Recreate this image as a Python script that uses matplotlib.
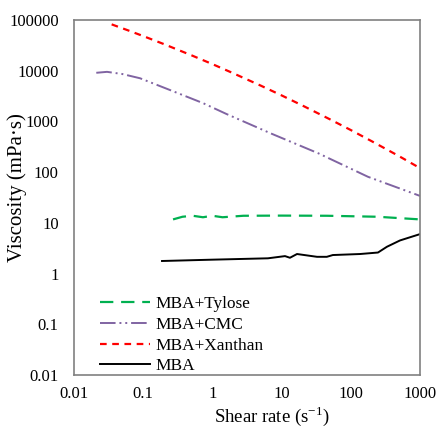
import numpy as np
from matplotlib import pyplot as plt

# data (shear rate in 1/s, viscosity in mPa.s)
xanthan_x = [0.035, 0.06, 0.1, 0.2, 0.5, 1.0, 1.8, 5.0, 10, 20, 50, 100, 200, 500, 1000]
xanthan_y = [82000, 62700, 48200, 33400, 20100, 13500, 9500, 5080, 3260, 2060, 1100, 676, 408, 206, 120]

cmc_x = [0.021, 0.03, 0.05, 0.09, 0.245, 0.73, 1.6, 7.0, 34, 177, 1000]
cmc_y = [9100, 9500, 8600, 7100, 4150, 2300, 1400, 580, 235, 81, 34]

tylose_x = [0.27, 0.37, 0.52, 0.73, 1.0, 1.4, 2.8, 10, 45, 240, 1000]
tylose_y = [11.7, 13.2, 13.8, 12.9, 13.8, 12.9, 13.8, 13.9, 13.8, 13.2, 11.7]

mba_x = [0.187, 1.0, 6.35, 11.2, 13.2, 16.7, 32.5, 45, 55, 136, 247, 333, 514, 1000]
mba_y = [1.77, 1.88, 2.0, 2.21, 2.05, 2.43, 2.14, 2.14, 2.32, 2.43, 2.6, 3.38, 4.5, 6.0]

labels = ['MBA+Tylose', 'MBA+CMC', 'MBA+Xanthan', 'MBA']

plt.rcParams['font.family'] = ['Liberation Serif', 'DejaVu Serif']
plt.rcParams['mathtext.fontset'] = 'custom'
plt.rcParams['mathtext.rm'] = 'Liberation Serif'

fig = plt.figure(figsize=(4.38, 4.28), dpi=100)
ax = fig.add_axes([74 / 438, 53 / 428, 346 / 438, 355 / 428])

ax.plot(tylose_x, tylose_y, color='#00B050', linestyle=(0, (6, 3.5)), linewidth=1.6, label=labels[0])
ax.plot(cmc_x, cmc_y, color='#8064A2', linestyle=(0, (8, 2, 1, 2, 1, 2)), linewidth=1.4, label=labels[1])
ax.plot(xanthan_x, xanthan_y, color='#FF0000', linestyle=(0, (3, 2.5)), linewidth=1.6, label=labels[2])
ax.plot(mba_x, mba_y, color='black', linestyle='-', linewidth=1.4, label=labels[3])

ax.set_xscale('log')
ax.set_yscale('log')
ax.set_xlim(0.01, 1000)
ax.set_ylim(0.01, 100000)

xt = [0.01, 0.1, 1, 10, 100, 1000]
yt = [0.01, 0.1, 1, 10, 100, 1000, 10000, 100000]
ax.set_xticks(xt)
ax.set_xticklabels(['0.01', '0.1', '1', '10', '100', '1000'])
ax.set_yticks(yt)
ax.set_yticklabels(['0.01', '0.1', '1', '10', '100', '1000', '10000', '100000'])
ax.minorticks_off()
ax.tick_params(length=0, labelsize=12)
ax.tick_params(axis='y', pad=11)
ax.tick_params(axis='x', pad=8)

for s in ax.spines.values():
    s.set_color('#808080')
    s.set_linewidth(1.2)

ax.set_xlabel('Shear rate (s$^{\\mathregular{-1}}$)', fontsize=13.5)
ax.set_ylabel('Viscosity (mPa·s)', fontsize=15)
ax.xaxis.set_label_coords(0.572, -0.083)
ax.yaxis.set_label_coords(-0.135, 0.527)

ax.legend(loc='lower left', frameon=False, fontsize=12.4, handlelength=2.9,
          handletextpad=0.3, labelspacing=0.27, borderpad=0.2,
          borderaxespad=0.0, bbox_to_anchor=(0.065, -0.008))

fig.savefig('out.png', dpi=100)
